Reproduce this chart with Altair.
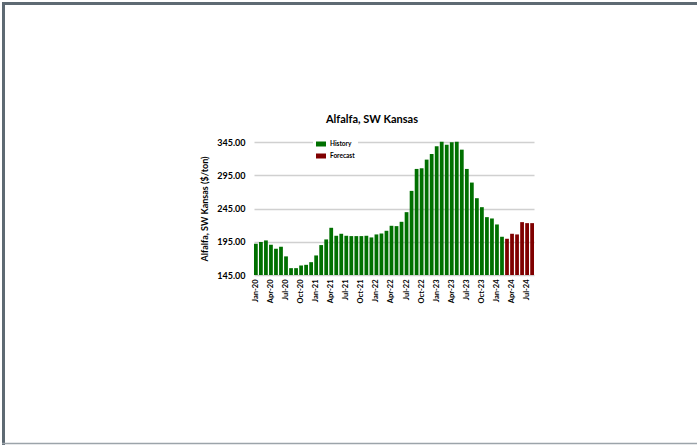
import altair as alt
import pandas as pd

# Monthly alfalfa price, SW Kansas ($/ton), Jan-2020 .. Aug-2024
months = [f"{m}-{y}" for y in ["20", "21", "22", "23", "24"]
          for m in ["Jan", "Feb", "Mar", "Apr", "May", "Jun",
                    "Jul", "Aug", "Sep", "Oct", "Nov", "Dec"]][:56]

history = [
    192.0, 194.5, 197.0, 190.5, 184.5, 187.5, 173.0, 155.3, 155.3, 159.3, 160.3, 164.3,
    174.4, 190.0, 198.5, 216.0, 204.0, 207.0, 204.0, 203.5, 203.5, 203.5, 204.0, 201.5,
    206.0, 207.5, 211.5, 219.0, 218.5, 225.0, 239.5, 271.5, 304.5, 305.5, 318.5, 327.0,
    338.5, 345.5, 341.0, 344.5, 345.5, 333.5, 304.5, 284.0, 260.5, 247.0, 232.0, 230.0,
    221.0, 202.5,
]
forecast = [199.5, 207.0, 206.0, 224.5, 223.0, 223.0]

series_names = ["History", "Forecast"]
series_colors = ["#007000", "#800000"]

y_ticks = [145, 195, 245, 295, 345]
x_ticks = months[::3]

df = pd.DataFrame({
    "month": months,
    "price": history + forecast,
    "series": ["History"] * len(history) + ["Forecast"] * len(forecast),
})

FONT = "Lato"
W, H = 280, 133          # plot area
PAD_L, PAD_T = 254, 142  # plot origin inside the 697x445 page

bars = alt.Chart(df).mark_bar().encode(
    x=alt.X("month:N", sort=months,
            scale=alt.Scale(paddingInner=0.25, paddingOuter=0.0),
            axis=alt.Axis(values=x_ticks, title=None, labelAngle=270,
                          labelAlign="right", labelBaseline="middle",
                          labelFont=FONT, labelFontWeight="bold",
                          labelFontSize=7.5, labelColor="#000000",
                          labelPadding=4, ticks=False, domain=False,
                          grid=False)),
    y=alt.Y("price:Q",
            scale=alt.Scale(domain=[y_ticks[0], y_ticks[-1]], zero=False, nice=False),
            axis=alt.Axis(values=y_ticks, format=".2f",
                          title="Alfalfa, SW Kansas ($/ton)",
                          titleFont=FONT, titleFontSize=9, titleFontWeight="bold",
                          titleColor="#000000", titlePadding=7,
                          labelFont=FONT, labelFontSize=9, labelFontWeight="bold",
                          labelColor="#000000", labelPadding=9,
                          ticks=False, domain=False,
                          grid=True, gridColor="#d0d0d0", gridWidth=1.5)),
    y2=alt.datum(y_ticks[0]),
    color=alt.Color("series:N",
                    scale=alt.Scale(domain=series_names, range=series_colors),
                    legend=alt.Legend(
                        title=None, orient="none", legendX=59, legendY=-6,
                        fillColor="#ffffff", padding=3,
                        symbolType="M-1,-0.5H1V0.5H-1Z", symbolSize=100,
                        symbolStrokeWidth=0, rowPadding=3, labelOffset=4,
                        labelFont=FONT, labelFontSize=6.5, labelFontWeight="bold",
                        labelColor="#000000")),
)

one = alt.Data(values=[{}])

title = alt.Chart(one).mark_text(
    text="Alfalfa, SW Kansas", font=FONT, fontSize=11, fontWeight="bold",
    color="#000000", align="center", baseline="middle",
).encode(x=alt.value(372 - PAD_L), y=alt.value(120 - PAD_T))

# page frame: heavy top and left edges, thin light bottom edge
frame_top = alt.Chart(one).mark_rule(color="#5e6a73", strokeWidth=3).encode(
    x=alt.value(2 - PAD_L), x2=alt.value(697 - PAD_L), y=alt.value(3.5 - PAD_T))
frame_left = alt.Chart(one).mark_rule(color="#5e6a73", strokeWidth=3).encode(
    x=alt.value(3.5 - PAD_L), y=alt.value(2 - PAD_T), y2=alt.value(445 - PAD_T))
frame_bottom = alt.Chart(one).mark_rule(color="#9ca4aa", strokeWidth=1.5).encode(
    x=alt.value(2 - PAD_L), x2=alt.value(697 - PAD_L), y=alt.value(443.5 - PAD_T))

chart = alt.layer(bars, title, frame_top, frame_left, frame_bottom).properties(
    width=W, height=H,
    autosize=alt.AutoSizeParams(type="none"),
    padding={"left": PAD_L, "top": PAD_T, "right": 697 - PAD_L - W,
             "bottom": 445 - PAD_T - H},
    background="#ffffff",
).configure_view(stroke=None)

chart.save("out.html", embed_options={"renderer": "svg", "actions": False})
